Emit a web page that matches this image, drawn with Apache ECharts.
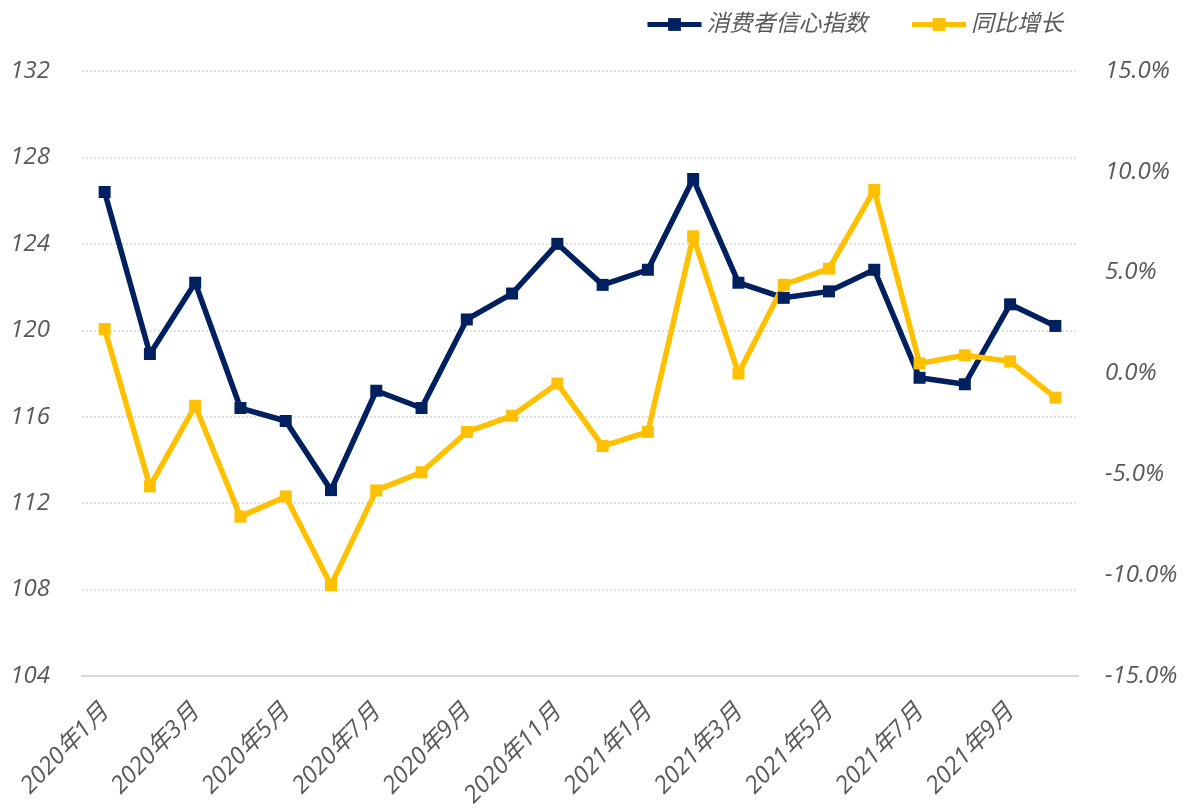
<!DOCTYPE html>
<html>
<head>
<meta charset="utf-8">
<script src="https://cdn.jsdelivr.net/npm/echarts@6/dist/echarts.min.js"></script>
<style>html,body{margin:0;padding:0;background:#fff;}#c{width:1186px;height:810px;}</style>
</head>
<body>
<div id="c"></div>
<script>
var categories = ['2020年1月','2020年2月','2020年3月','2020年4月','2020年5月','2020年6月','2020年7月','2020年8月','2020年9月','2020年10月','2020年11月','2020年12月','2021年1月','2021年2月','2021年3月','2021年4月','2021年5月','2021年6月','2021年7月','2021年8月','2021年9月','2021年10月'];
var confidenceIndex = [126.4,118.9,122.2,116.4,115.8,112.6,117.2,116.4,120.5,121.7,124.0,122.1,122.8,127.0,122.2,121.5,121.8,122.8,117.8,117.5,121.2,120.2];
var yoyGrowth = [2.2,-5.6,-1.6,-7.1,-6.1,-10.5,-5.8,-4.9,-2.9,-2.1,-0.5,-3.6,-2.9,6.8,0.0,4.4,5.2,9.1,0.5,0.9,0.6,-1.2];
var leftTicks = {min:104, max:132, interval:4};
var rightTicks = {min:-15, max:15, interval:5};

var FONT = "'Open Sans','Noto Sans CJK SC',sans-serif";
var TXT = '#595959';
var chart = echarts.init(document.getElementById('c'));
chart.setOption({
  animation:false,
  backgroundColor:'#fff',
  textStyle:{fontFamily:FONT},
  legend:{
    top:8, right:118, itemGap:42, itemWidth:54, itemHeight:16,
    lineStyle:{width:5},
    textStyle:{fontSize:23, fontStyle:'italic', color:TXT, fontFamily:FONT},
    data:['消费者信心指数','同比增长']
  },
  grid:{left:82, right:108, top:71, bottom:133},
  xAxis:{
    type:'category', data:categories, boundaryGap:true,
    axisLine:{onZero:false, lineStyle:{color:'#d9d9d9', width:2}},
    axisTick:{interval:1, length:7, lineStyle:{color:'#d9d9d9', width:2}},
    axisLabel:{interval:1, rotate:46, fontSize:24, fontStyle:'italic', color:TXT, margin:32, fontFamily:FONT}
  },
  yAxis:[{
    type:'value', min:leftTicks.min, max:leftTicks.max, interval:leftTicks.interval,
    axisLine:{show:false}, axisTick:{show:false},
    axisLabel:{fontSize:24, fontStyle:'italic', color:TXT, margin:32, fontFamily:FONT},
    splitLine:{lineStyle:{color:'#d9d9d9', type:[2,2], width:1.5}}
  },{
    type:'value', min:rightTicks.min, max:rightTicks.max, interval:rightTicks.interval,
    axisLine:{show:false}, axisTick:{show:false}, splitLine:{show:false},
    axisLabel:{fontSize:24, fontStyle:'italic', color:TXT, margin:27, fontFamily:FONT,
      formatter:function(v){return v.toFixed(1)+'%';}}
  }],
  series:[{
    name:'消费者信心指数', type:'line', yAxisIndex:0, data:confidenceIndex,
    symbol:'rect', symbolSize:12, lineStyle:{width:5.5, color:'#002060'}, itemStyle:{color:'#002060'}
  },{
    name:'同比增长', type:'line', yAxisIndex:1, data:yoyGrowth,
    symbol:'rect', symbolSize:12, lineStyle:{width:5.5, color:'#FFC000'}, itemStyle:{color:'#FFC000'}
  }]
});
</script>
</body>
</html>
